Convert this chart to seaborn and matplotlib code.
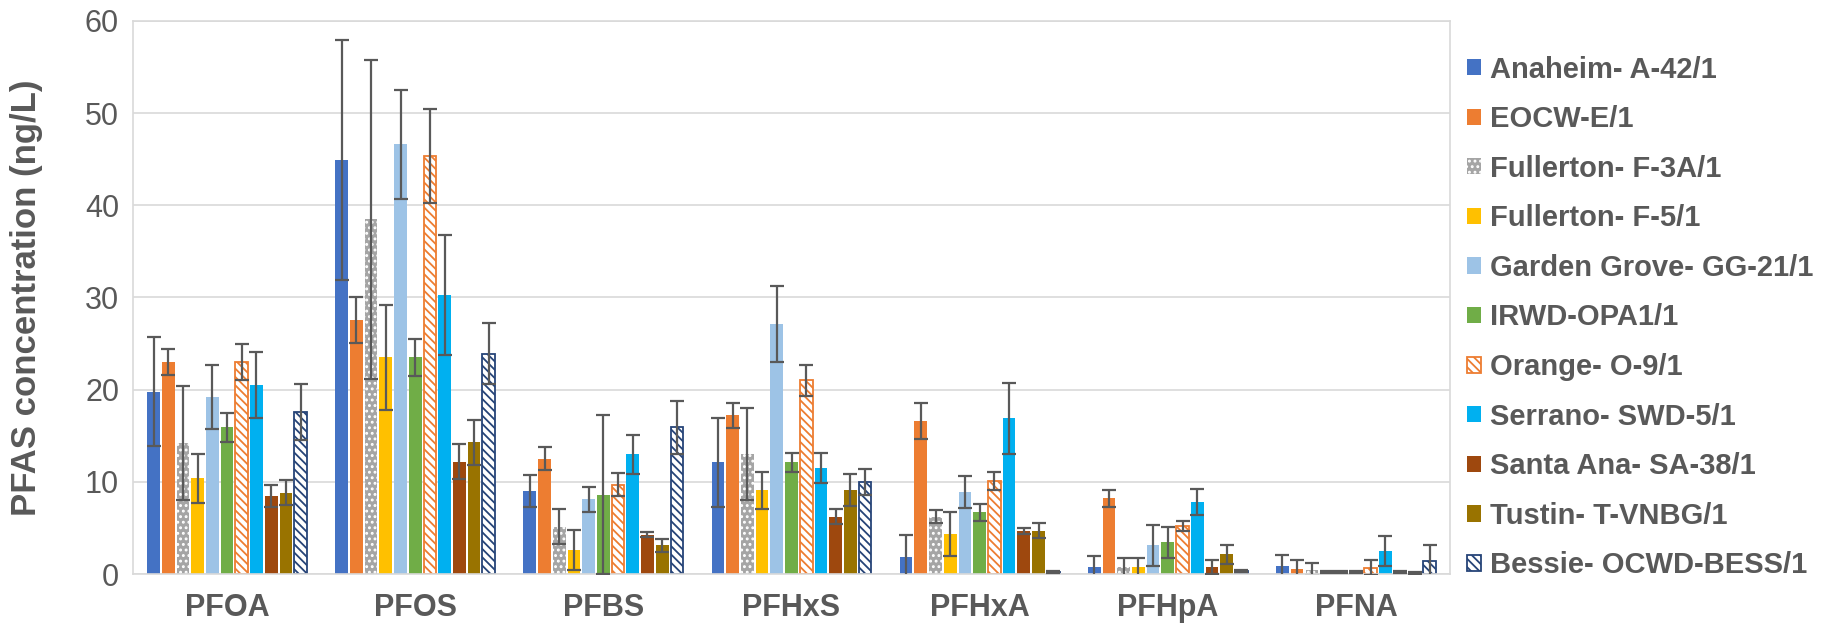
import numpy as np
import pandas as pd
import matplotlib
matplotlib.use("Agg")
import matplotlib.pyplot as plt
from matplotlib.patches import Patch
import seaborn as sns

# Compounds on the x axis
compounds = ["PFOA", "PFOS", "PFBS", "PFHxS", "PFHxA", "PFHpA", "PFNA"]

# Sampling sites (hue levels)
sites = [
    "Anaheim- A-42/1",
    "EOCW-E/1",
    "Fullerton- F-3A/1",
    "Fullerton- F-5/1",
    "Garden Grove- GG-21/1",
    "IRWD-OPA1/1",
    "Orange- O-9/1",
    "Serrano- SWD-5/1",
    "Santa Ana- SA-38/1",
    "Tustin- T-VNBG/1",
    "Bessie- OCWD-BESS/1",
]

# Mean concentrations (ng/L), one list per site, in compound order
anaheim = [19.8, 44.9, 9.0, 12.1, 1.9, 0.75, 0.9]
eocw = [23.0, 27.6, 12.5, 17.2, 16.6, 8.2, 0.5]
fullerton_3a = [14.2, 38.5, 5.15, 13.0, 6.2, 0.72, 0.47]
fullerton_5 = [10.4, 23.5, 2.6, 9.1, 4.35, 0.72, 0.25]
garden_grove = [19.2, 46.6, 8.1, 27.1, 8.9, 3.1, 0.25]
irwd = [15.9, 23.5, 8.6, 12.1, 6.7, 3.45, 0.25]
orange = [23.0, 45.3, 9.7, 21.0, 10.1, 5.2, 0.7]
serrano = [20.5, 30.3, 13.0, 11.5, 16.9, 7.8, 2.5]
santa_ana = [8.45, 12.2, 4.25, 6.2, 4.65, 0.75, 0.25]
tustin = [8.8, 14.3, 3.1, 9.1, 4.7, 2.15, 0.15]
bessie = [17.55, 23.9, 15.9, 10.0, 0.25, 0.29, 1.4]

# Standard deviations (ng/L)
anaheim_sd = [5.9, 13.0, 1.7, 4.85, 2.3, 1.2, 1.2]
eocw_sd = [1.4, 2.5, 1.25, 1.35, 1.95, 0.9, 1.0]
fullerton_3a_sd = [6.2, 17.3, 1.9, 5.0, 0.7, 1.0, 0.72]
fullerton_5_sd = [2.65, 5.7, 2.2, 2.0, 2.35, 1.0, 0.1]
garden_grove_sd = [3.5, 5.9, 1.35, 4.1, 1.7, 2.25, 0.1]
irwd_sd = [1.55, 2.0, 8.6, 1.0, 0.9, 1.7, 0.1]
orange_sd = [1.9, 5.1, 1.27, 1.7, 0.95, 0.55, 0.83]
serrano_sd = [3.6, 6.5, 2.1, 1.63, 3.85, 1.45, 1.6]
santa_ana_sd = [1.2, 1.9, 0.27, 0.82, 0.3, 0.8, 0.1]
tustin_sd = [1.35, 2.45, 0.72, 1.75, 0.8, 1.05, 0.1]
bessie_sd = [3.05, 3.3, 2.85, 1.4, 0.1, 0.1, 1.78]

means = [anaheim, eocw, fullerton_3a, fullerton_5, garden_grove, irwd,
         orange, serrano, santa_ana, tustin, bessie]
sds = [anaheim_sd, eocw_sd, fullerton_3a_sd, fullerton_5_sd, garden_grove_sd,
       irwd_sd, orange_sd, serrano_sd, santa_ana_sd, tustin_sd, bessie_sd]

# Fill / edge / hatch per site
styles = [
    dict(fc="#4472C4", ec="#4472C4", hatch=None, lw=0),
    dict(fc="#ED7D31", ec="#ED7D31", hatch=None, lw=0),
    dict(fc="#A5A5A5", ec="white", hatch="...", lw=0),
    dict(fc="#FFC000", ec="#FFC000", hatch=None, lw=0),
    dict(fc="#9DC3E6", ec="#9DC3E6", hatch=None, lw=0),
    dict(fc="#70AD47", ec="#70AD47", hatch=None, lw=0),
    dict(fc="white", ec="#ED7D31", hatch="\\\\\\\\", lw=1.3),
    dict(fc="#00B0F0", ec="#00B0F0", hatch=None, lw=0),
    dict(fc="#9E480E", ec="#9E480E", hatch=None, lw=0),
    dict(fc="#997300", ec="#997300", hatch=None, lw=0),
    dict(fc="white", ec="#264478", hatch="\\\\\\\\", lw=1.3),
]

rows = []
for site, vals, errs in zip(sites, means, sds):
    for comp, v, e in zip(compounds, vals, errs):
        rows.append({"compound": comp, "site": site, "conc": v, "sd": e})
df = pd.DataFrame(rows)

sns.set_theme(style="white")
plt.rcParams["font.family"] = ["Liberation Sans", "DejaVu Sans"]
plt.rcParams["hatch.linewidth"] = 1.3
text_color = "#595959"

fig = plt.figure(figsize=(18.32, 6.31), dpi=100)
ax = fig.add_axes([0.0726, 0.0903, 0.7189, 0.8765])

sns.barplot(data=df, x="compound", y="conc", hue="site", order=compounds,
            hue_order=sites, errorbar=None, width=0.86, gap=0.14,
            legend=False, ax=ax)

# Style each site's bars and add the SD whiskers
for container, st, errs in zip(ax.containers, styles, sds):
    xs, ys = [], []
    for bar in container:
        bar.set_facecolor(st["fc"])
        bar.set_edgecolor(st["ec"])
        bar.set_linewidth(st["lw"])
        if st["hatch"]:
            bar.set_hatch(st["hatch"])
        xs.append(bar.get_x() + bar.get_width() / 2)
        ys.append(bar.get_height())
    ax.errorbar(xs, ys, yerr=errs, fmt="none", ecolor="#595959",
                elinewidth=1.6, capsize=5, capthick=1.6, zorder=5)

ax.set_ylim(0, 60)
ax.set_yticks(np.arange(0, 61, 10))
ax.set_xlim(-0.5, len(compounds) - 0.5)
ax.yaxis.grid(True, color="#D9D9D9", linewidth=1.2)
ax.set_axisbelow(True)
for sp in ax.spines.values():
    sp.set_visible(True)
    sp.set_color("#D9D9D9")
    sp.set_linewidth(1.2)

ax.set_xlabel("")
ax.set_ylabel("PFAS concentration (ng/L)", fontsize=25, fontweight="bold",
              color=text_color, labelpad=30)
ax.tick_params(axis="y", labelsize=22, labelcolor=text_color, length=0, pad=10)
ax.tick_params(axis="x", labelsize=22, labelcolor=text_color, length=0, pad=14)
for lab in ax.get_xticklabels():
    lab.set_fontweight("bold")

handles = [Patch(facecolor=st["fc"], edgecolor=st["ec"], hatch=st["hatch"],
                 linewidth=st["lw"]) for st in styles]
leg = fig.legend(handles, sites, loc="upper left",
                 bbox_to_anchor=(0.801, 0.912), frameon=False,
                 borderaxespad=0, borderpad=0,
                 prop={"size": 21, "weight": "bold"},
                 handlelength=0.48, handleheight=0.48, handletextpad=0.3,
                 labelspacing=0.74)
for t in leg.get_texts():
    t.set_color(text_color)

fig.savefig("out.png", dpi=100, facecolor="white")
